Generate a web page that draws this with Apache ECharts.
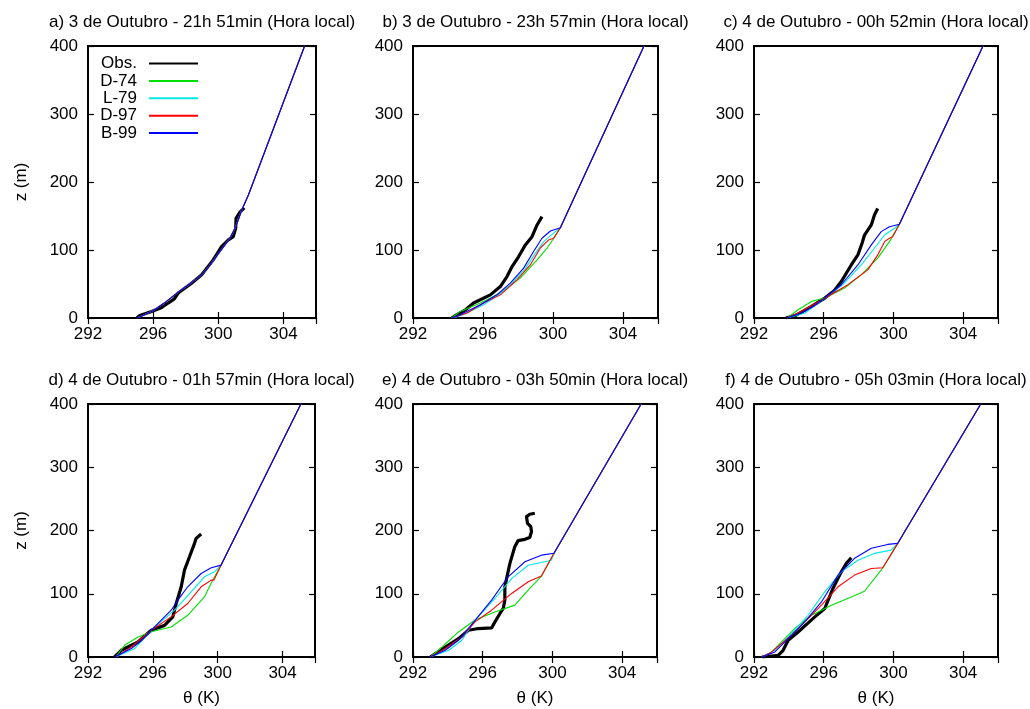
<!DOCTYPE html>
<html>
<head>
<meta charset="utf-8">
<script src="https://cdn.jsdelivr.net/npm/echarts@6/dist/echarts.min.js"></script>
<style>
  html, body { margin: 0; padding: 0; background: #fff; }
  #chart { width: 1030px; height: 709px; }
</style>
</head>
<body>
<div id="chart"></div>
<script>
// Potential temperature profiles: observations vs. four nocturnal boundary-layer models
const seriesNames = ['Obs.', 'D-74', 'L-79', 'D-97', 'B-99'];
const seriesColors = ['#000000', '#00e000', '#00e8e8', '#ff0000', '#0000ff'];
const panelTitles = [
  'a) 3 de Outubro - 21h 51min (Hora local)',
  'b) 3 de Outubro - 23h 57min (Hora local)',
  'c) 4 de Outubro - 00h 52min (Hora local)',
  'd) 4 de Outubro - 01h 57min (Hora local)',
  'e) 4 de Outubro - 03h 50min (Hora local)',
  'f) 4 de Outubro - 05h 03min (Hora local)'
];
const thetaMin = 292, thetaMax = 306, thetaStep = 4;
const zMin = 0, zMax = 400, zStep = 100;

// Panel a  [theta (K), z (m)]
const obsA = [[295.0,0],[295.18,3.8],[295.9,9.7],[296.5,15],[296.92,22],[297.3,28],[297.54,36.7],[298.36,51],[298.98,63.5],[299.69,85.5],[300.2,105],[300.62,114.8],[300.92,119.6],[301.07,132],[301.09,146.6],[301.34,156],[301.6,162]];
const d74A = [[295.02,0],[295.4,4.2],[296.0,10.9],[296.8,24],[297.54,38],[298.3,51],[298.98,63.6],[299.4,75],[299.8,88],[300.41,107.5],[300.75,119],[301.03,132],[301.25,146],[301.44,158.8],[301.85,180.8],[305.3,400]];
const l79A = [[295.02,0],[295.4,4.1],[296.0,10.8],[296.8,24],[297.54,38],[298.3,51],[298.98,63.5],[299.4,75],[299.8,88],[300.41,107.5],[300.75,119],[301.03,132],[301.25,146],[301.44,158.8],[301.85,180.8],[305.3,400]];
const d97A = [[295.02,0],[295.4,4],[296.0,10.7],[296.8,24],[297.54,38],[298.3,51],[298.98,63.5],[299.4,75],[299.8,88],[300.41,107.5],[300.75,119],[301.03,132],[301.25,146],[301.44,158.8],[301.85,180.8],[305.3,400]];
const b99A = [[295.02,0],[295.4,4],[296.0,10.7],[296.8,24],[297.54,38],[298.3,51],[298.98,63.5],[299.4,75],[299.8,88],[300.41,107.5],[300.75,119],[301.03,132],[301.25,146],[301.44,158.8],[301.85,180.8],[305.3,400]];

// Panel b
const obsB = [[294.2,0],[294.51,4.9],[295.0,12],[295.46,22],[296.42,34],[296.99,46.3],[297.37,61],[297.66,75.7],[298.03,90],[298.42,107.5],[298.8,119.6],[299.09,136.8],[299.37,149]];
const d74B = [[294.2,0],[294.7,9.7],[295.85,22],[296.99,36.7],[298.13,58.6],[299.09,85.5],[299.66,102.6],[300.04,117.3],[300.42,132.8],[305.2,400]];
const l79B = [[294.3,0],[294.9,5],[296.03,19.5],[296.9,34],[297.66,51.3],[298.42,73],[298.99,95],[299.46,112],[299.94,123],[300.42,132.8],[305.2,400]];
const d97B = [[294.2,0],[295.09,7.3],[296.03,22],[296.99,34],[297.94,56],[298.7,78],[299.27,102.6],[299.75,114.8],[300.04,117.3],[300.42,132.8],[305.2,400]];
const b99B = [[294.23,0],[294.7,4.9],[295.85,19.5],[296.8,34.2],[297.56,51.3],[298.32,73.3],[298.89,97.7],[299.37,117.3],[299.85,128],[300.42,132.8],[305.2,400]];

// Panel c
const obsC = [[293.83,0],[294.4,3.8],[295.3,17],[296.06,29.3],[296.6,40],[297.01,53.7],[297.58,78],[297.96,92.8],[298.2,110],[298.34,122],[298.73,136.8],[298.91,151.5],[299.1,161]];
const d74C = [[293.9,0],[294.53,12.2],[295.3,24.4],[296.06,29.3],[297.2,44],[298.15,63.5],[299.1,88],[299.77,112.3],[299.9,118],[300.34,137.8],[305.14,400]];
const l79C = [[293.9,0],[294.9,7],[296.06,29],[297.1,49],[298.15,78],[298.91,102.6],[299.49,122],[300.06,132],[300.34,137.8],[305.14,400]];
const d97C = [[293.9,0],[294.53,7.3],[295.3,18],[296.06,29],[297.39,49],[298.53,70.8],[299.1,92.8],[299.49,112.3],[299.77,117.3],[299.96,119.6],[300.34,137.8],[305.14,400]];
const b99C = [[293.87,0],[294.73,7.3],[295.4,17],[296.06,29.3],[297.01,48.9],[297.96,78],[298.73,107.5],[299.3,127],[299.77,134.3],[300.34,137.8],[305.14,400]];

// Panel d
const obsD = [[293.64,0],[294.05,10.6],[295.08,23.8],[295.9,42.3],[296.72,50],[297.23,63.4],[297.44,84.6],[297.75,111],[297.95,137.4],[298.26,158.5],[298.57,179.7],[298.67,187.6],[298.98,194.5]];
const d74D = [[293.7,0],[294.26,18.5],[295.08,31.7],[295.9,40],[297.13,47.5],[298.15,66],[299.18,95],[299.69,121.5],[300.21,145.3],[305.13,400]];
const l79D = [[293.7,0],[294.87,13],[295.9,42],[296.6,58],[297.34,74],[298.36,103],[299.18,126.8],[299.8,134.7],[300.21,145.3],[305.13,400]];
const d97D = [[293.7,0],[294.67,15.8],[295.9,42.3],[297.13,63.4],[298.15,84.6],[298.98,111],[299.6,121.5],[299.76,121.5],[300.21,145.3],[305.13,400]];
const b99D = [[293.64,0],[294.67,13.3],[295.3,26],[295.9,42.3],[296.5,58],[297.13,74],[297.6,92],[298.15,111],[298.98,132],[299.6,141],[300.21,145.3],[305.13,400]];

// Panel e
const obsE = [[292.99,0],[293.85,15.8],[294.61,29],[295.18,42.3],[295.75,45],[296.51,46],[296.7,55.5],[296.99,68.8],[297.18,76.7],[297.27,90],[297.27,111],[297.37,124],[297.56,148],[297.84,174.3],[298.03,184],[298.42,186],[298.7,189],[298.8,198],[298.76,206],[298.57,211.4],[298.51,222],[298.7,225.7],[298.99,227.2]];
const d74E = [[293.0,0],[293.66,15.8],[294.61,39.6],[295.56,58.6],[296.7,71.3],[297.84,82],[298.61,105.7],[299.37,128],[300.09,164],[305.09,400]];
const l79E = [[293.0,0],[294.05,10.6],[294.8,26.4],[295.56,58],[296.7,92.5],[297.66,124],[298.61,145],[299.56,150.6],[299.94,153],[300.09,164],[305.09,400]];
const d97E = [[293.0,0],[293.85,13],[294.8,31.7],[295.56,55.5],[296.51,74],[297.66,100.5],[298.61,119],[299.37,128],[300.09,164],[305.09,400]];
const b99E = [[292.99,0],[293.85,10.6],[294.61,26.4],[295.56,58],[296.51,90],[297.46,126.8],[298.42,150.6],[299.37,161],[300.09,164],[305.09,400]];

// Panel f
const obsF = [[292.45,0],[293.39,2.7],[293.67,10.6],[293.96,26.4],[294.53,39.6],[295.49,63.4],[296.06,76.7],[296.53,108.4],[296.72,119],[297.01,134.7],[297.3,148],[297.58,157]];
const d74F = [[292.45,0],[292.91,5],[293.58,23.8],[294.34,45],[295.3,66],[296.44,82],[297.58,95],[298.34,104],[299.39,141],[300.25,179.7],[305.01,400]];
const l79F = [[292.45,0],[293.2,10.6],[294.15,37],[295.1,66],[296.06,103],[297.01,134.7],[297.96,153],[298.91,163.8],[299.87,169],[300.25,179.7],[305.01,400]];
const d97F = [[292.45,0],[293.01,8],[294.15,34.4],[295.1,60.8],[295.87,82],[296.82,111],[297.77,129.5],[298.73,140],[299.39,141],[300.25,179.7],[305.01,400]];
const b99F = [[292.45,0],[293.2,8],[293.96,29],[294.91,55.5],[295.87,87],[296.82,129.5],[297.77,156],[298.73,171.8],[299.67,178],[300.25,179.7],[305.01,400]];

const panelData = [
  [obsA, d74A, l79A, d97A, b99A],
  [obsB, d74B, l79B, d97B, b99B],
  [obsC, d74C, l79C, d97C, b99C],
  [obsD, d74D, l79D, d97D, b99D],
  [obsE, d74E, l79E, d97E, b99E],
  [obsF, d74F, l79F, d97F, b99F]
];

// Plot-area boxes in pixels: [left, top, width, height]
const gridBoxes = [
  [88, 46, 228, 272], [413, 46, 245, 272], [754, 46, 244, 272],
  [88, 404, 227, 253], [413, 404, 244, 253], [754, 404, 244, 253]
];

const FONT = '"Liberation Sans", Arial, Helvetica, sans-serif';
const FS = 17;

const grids = [], xAxes = [], yAxes = [], series = [], graphics = [];

gridBoxes.forEach((b, i) => {
  grids.push({
    left: b[0], top: b[1], width: b[2], height: b[3],
    show: true, borderColor: '#000', borderWidth: 2, backgroundColor: 'transparent'
  });
  const bottomRow = i >= 3, leftCol = i % 3 === 0;
  const tick = { show: true, inside: true, length: 6, lineStyle: { color: '#000', width: 1.2 } };
  // bottom and top theta axes
  xAxes.push({
    type: 'value', gridIndex: i, position: 'bottom',
    min: thetaMin, max: thetaMax, interval: thetaStep,
    axisLine: { show: false }, splitLine: { show: false }, axisTick: tick,
    axisLabel: { color: '#000', fontFamily: FONT, fontSize: FS, margin: 8, showMaxLabel: false },
    name: bottomRow ? 'θ (K)' : '', nameLocation: 'middle', nameGap: 33,
    nameTextStyle: { color: '#000', fontFamily: FONT, fontSize: FS }
  });
  xAxes.push({
    type: 'value', gridIndex: i, position: 'top',
    min: thetaMin, max: thetaMax, interval: thetaStep,
    axisLine: { show: false }, splitLine: { show: false }, axisTick: tick,
    axisLabel: { show: false }
  });
  // left and right height axes
  yAxes.push({
    type: 'value', gridIndex: i, position: 'left',
    min: zMin, max: zMax, interval: zStep,
    axisLine: { show: false }, splitLine: { show: false }, axisTick: tick,
    axisLabel: { color: '#000', fontFamily: FONT, fontSize: FS, margin: 10 },
    name: leftCol ? 'z (m)' : '', nameLocation: 'middle', nameGap: 58,
    nameTextStyle: { color: '#000', fontFamily: FONT, fontSize: FS }
  });
  yAxes.push({
    type: 'value', gridIndex: i, position: 'right',
    min: zMin, max: zMax, interval: zStep,
    axisLine: { show: false }, splitLine: { show: false }, axisTick: tick,
    axisLabel: { show: false }
  });

  panelData[i].forEach((data, k) => {
    series.push({
      type: 'line', name: seriesNames[k],
      xAxisIndex: 2 * i, yAxisIndex: 2 * i,
      data: data, symbol: 'none', showSymbol: false,
      animation: false, z: 2 + k,
      lineStyle: { color: seriesColors[k], width: k === 0 ? 3.2 : 1.1 },
      itemStyle: { color: seriesColors[k] },
      emphasis: { disabled: true }
    });
  });

  graphics.push({
    type: 'text',
    x: b[0] + b[2] / 2,
    y: i < 3 ? 22 : 380,
    style: {
      text: panelTitles[i], fill: '#000',
      font: FS + 'px ' + FONT,
      textAlign: 'center', textVerticalAlign: 'middle'
    }
  });
});

const chart = echarts.init(document.getElementById('chart'), null, { renderer: 'canvas' });
chart.setOption({
  backgroundColor: '#fff',
  animation: false,
  grid: grids,
  xAxis: xAxes,
  yAxis: yAxes,
  series: series,
  graphic: graphics,
  legend: {
    data: seriesNames,
    orient: 'vertical',
    align: 'right',
    right: 1030 - 199,
    top: 55,
    padding: 0,
    itemWidth: 49,
    itemHeight: 14,
    itemGap: 0.4,
    selectedMode: false,
    itemStyle: { color: 'rgba(0,0,0,0)', borderWidth: 0, opacity: 0 },
    textStyle: { color: '#000', fontFamily: FONT, fontSize: FS, lineHeight: 14, padding: [0, 7, 0, 0] }
  }
});
</script>
</body>
</html>
